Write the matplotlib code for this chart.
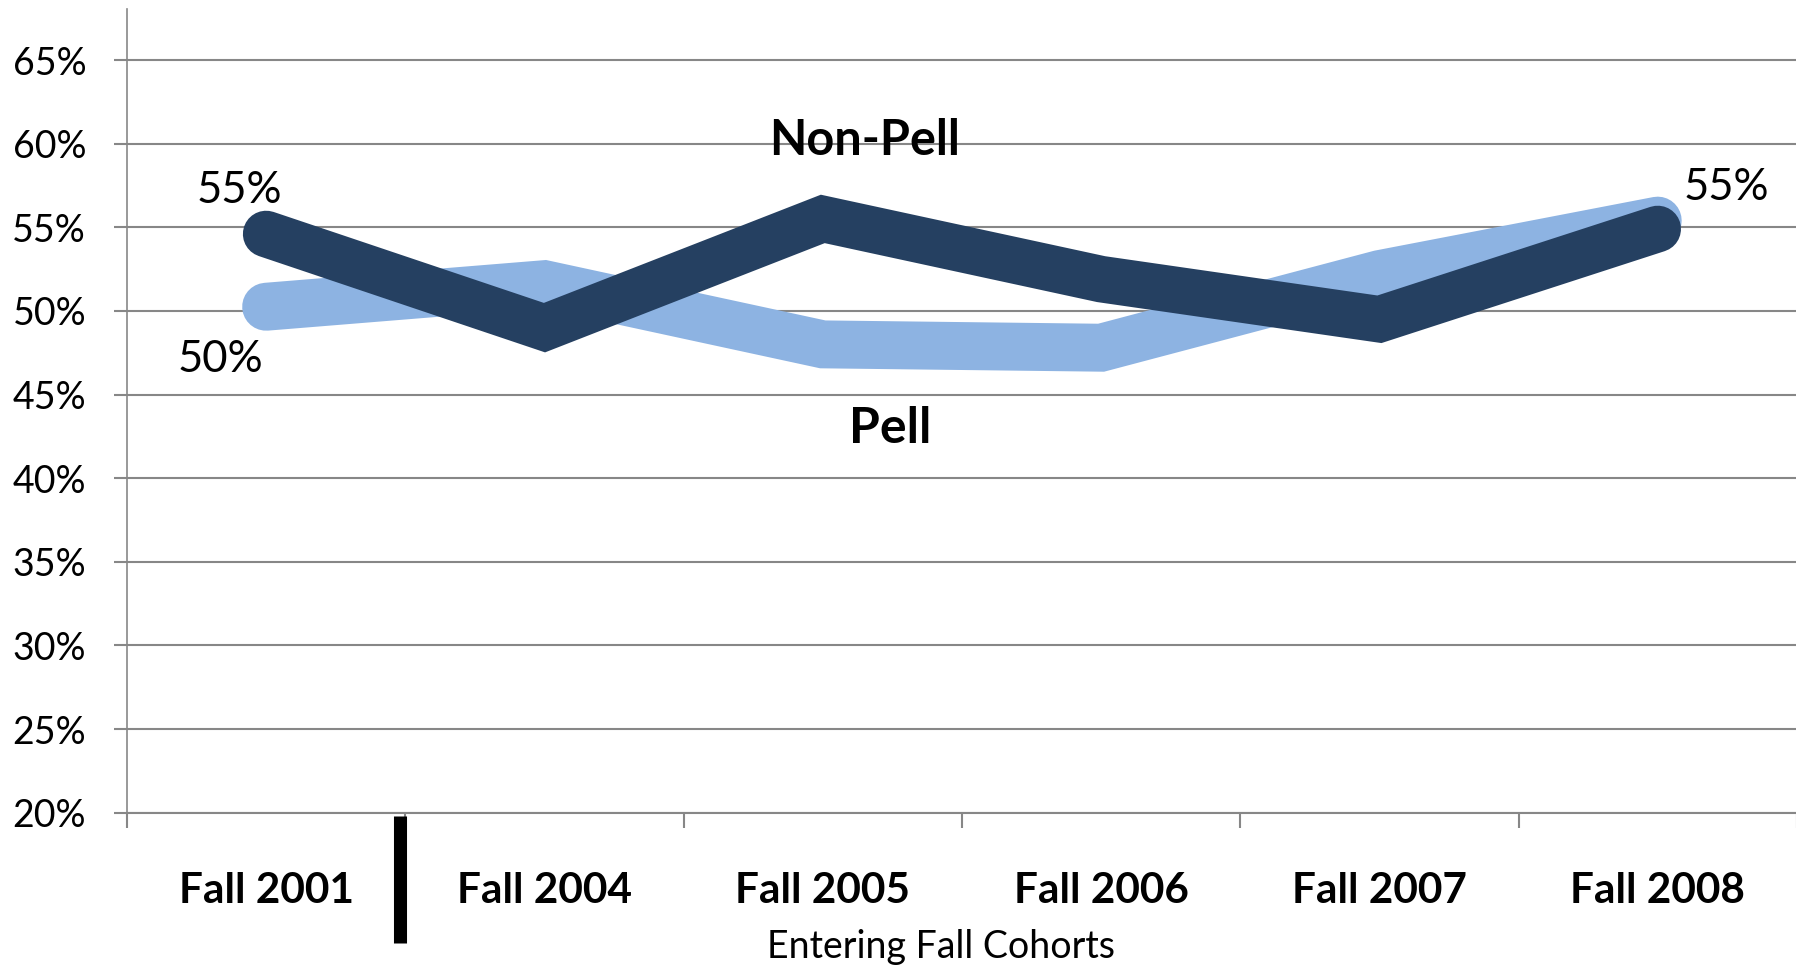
import matplotlib
matplotlib.use("Agg")
import matplotlib.pyplot as plt
import matplotlib.transforms as mtransforms

# data
cohorts = ["Fall 2001", "Fall 2004", "Fall 2005", "Fall 2006", "Fall 2007", "Fall 2008"]
pell = [50.25, 51.6, 48.0, 47.8, 52.2, 55.4]
non_pell = [54.6, 49.0, 55.5, 51.9, 49.5, 54.9]
y_ticks = [20, 25, 30, 35, 40, 45, 50, 55, 60, 65]

DARK = "#254061"
LIGHT = "#8DB3E2"
GRID = "#878787"

plt.rcParams['font.family'] = ['Lato', 'DejaVu Sans']

fig = plt.figure(figsize=(17.96, 9.69), dpi=100)
ax = fig.add_axes([0.0707, 0.1613, 0.9298, 0.8294])

x = list(range(len(cohorts)))
ax.plot(x, pell, color=LIGHT, lw=34.5, solid_capstyle='round',
        solid_joinstyle='miter', zorder=3)
ax.plot(x, non_pell, color=DARK, lw=33.5, solid_capstyle='round',
        solid_joinstyle='miter', zorder=4)

ax.set_xlim(-0.5, 5.5)
ax.set_ylim(20, 68.05)

# gridlines and axes styling
ax.set_yticks(y_ticks)
ax.set_yticklabels(["%d%%" % v for v in y_ticks], fontsize=27)
ax.yaxis.grid(True, color=GRID, lw=1.5)
ax.set_axisbelow(True)
ax.tick_params(axis='y', length=9.4, width=1.5, color=GRID, pad=20)

ax.set_xticks([i - 0.5 for i in range(len(cohorts) + 1)])
ax.set_xticklabels([])
ax.tick_params(axis='x', length=10.8, width=1.5, color=GRID)

for s in ['top', 'right']:
    ax.spines[s].set_visible(False)
ax.spines['left'].set_color(GRID)
ax.spines['left'].set_linewidth(1.2)
ax.spines['bottom'].set_color(GRID)
ax.spines['bottom'].set_linewidth(1.5)

# category labels below the axis
trans = mtransforms.blended_transform_factory(ax.transData, ax.transAxes)
for i, c in enumerate(cohorts):
    ax.text(i, -0.1127, c, transform=trans, ha='center', va='baseline',
            fontsize=30.5, fontweight='bold')

# black separator between Fall 2001 and Fall 2004
ax.plot([0.48, 0.48], [-0.004, -0.162], transform=trans, color='black',
        lw=9.4, solid_capstyle='butt', clip_on=False)

fig.text(941 / 1796, 1 - 958.3 / 969, "Entering Fall Cohorts",
         ha='center', va='baseline', fontsize=27)

# data labels
ax.annotate("%d%%" % round(non_pell[0]), (0, non_pell[0]), xytext=(-19.4, 22.5),
            textcoords='offset points', ha='center', va='baseline', fontsize=31.5)
ax.annotate("%d%%" % round(pell[0]), (0, pell[0]), xytext=(-33.1, -46.8),
            textcoords='offset points', ha='center', va='baseline', fontsize=31.5)
ax.annotate("%d%%" % round(non_pell[-1]), (5, non_pell[-1]), xytext=(49.7, 20.9),
            textcoords='offset points', ha='center', va='baseline', fontsize=31.5)

# series names
ax.text(2.149, 59.32, "Non-Pell", ha='center', va='baseline', fontsize=35,
        fontweight='bold')
ax.text(2.242, 42.1, "Pell", ha='center', va='baseline', fontsize=36,
        fontweight='bold')

fig.savefig("out.png", dpi=100)
